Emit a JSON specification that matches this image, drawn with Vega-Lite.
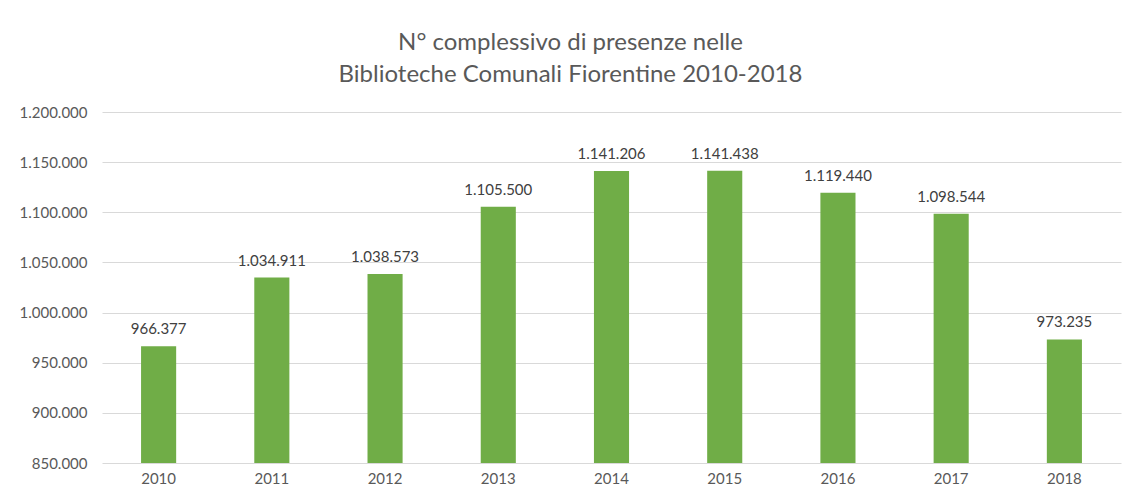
{
  "$schema": "https://vega.github.io/schema/vega-lite/v6.json",
  "autosize": "none",
  "width": 1019,
  "height": 351,
  "padding": {"left": 102, "top": 112, "right": 8, "bottom": 34},
  "background": "white",
  "config": {
    "view": {"stroke": null},
    "locale": {"number": {"decimal": ",", "thousands": ".", "grouping": [3], "currency": ["€", ""]}},
    "font": "Lato"
  },
  "title": {
    "text": ["N° complessivo di presenze nelle", "Biblioteche Comunali Fiorentine 2010-2018"],
    "fontSize": 24,
    "fontWeight": "normal",
    "color": "#595959",
    "font": "Lato",
    "anchor": "middle",
    "frame": "group",
    "dx": -41,
    "offset": 18,
    "lineHeight": 32
  },
  "data": {
    "values": [
      {"anno": "2010", "presenze": 966377},
      {"anno": "2011", "presenze": 1034911},
      {"anno": "2012", "presenze": 1038573},
      {"anno": "2013", "presenze": 1105500},
      {"anno": "2014", "presenze": 1141206},
      {"anno": "2015", "presenze": 1141438},
      {"anno": "2016", "presenze": 1119440},
      {"anno": "2017", "presenze": 1098544},
      {"anno": "2018", "presenze": 973235}
    ]
  },
  "encoding": {
    "x": {
      "field": "anno",
      "type": "nominal",
      "scale": {"paddingInner": 0.69, "paddingOuter": 0.345},
      "axis": {
        "title": null,
        "labelAngle": 0,
        "labelFontSize": 15,
        "labelColor": "#595959",
        "labelPadding": 8,
        "ticks": false,
        "domain": false,
        "grid": false
      }
    },
    "y": {
      "field": "presenze",
      "type": "quantitative",
      "scale": {"domain": [850000, 1200000], "zero": false, "nice": false},
      "axis": {
        "title": null,
        "values": [850000, 900000, 950000, 1000000, 1050000, 1100000, 1150000, 1200000],
        "format": ",d",
        "labelFontSize": 15,
        "labelColor": "#595959",
        "labelPadding": 15,
        "ticks": false,
        "domain": false,
        "gridColor": "#d9d9d9",
        "gridWidth": 1
      }
    }
  },
  "layer": [
    {"mark": {"type": "bar", "color": "#70ad47", "clip": true}},
    {
      "mark": {"type": "text", "dy": -9, "baseline": "bottom", "fontSize": 15, "color": "#404040"},
      "encoding": {"text": {"field": "presenze", "type": "quantitative", "format": ",d"}}
    }
  ]
}
